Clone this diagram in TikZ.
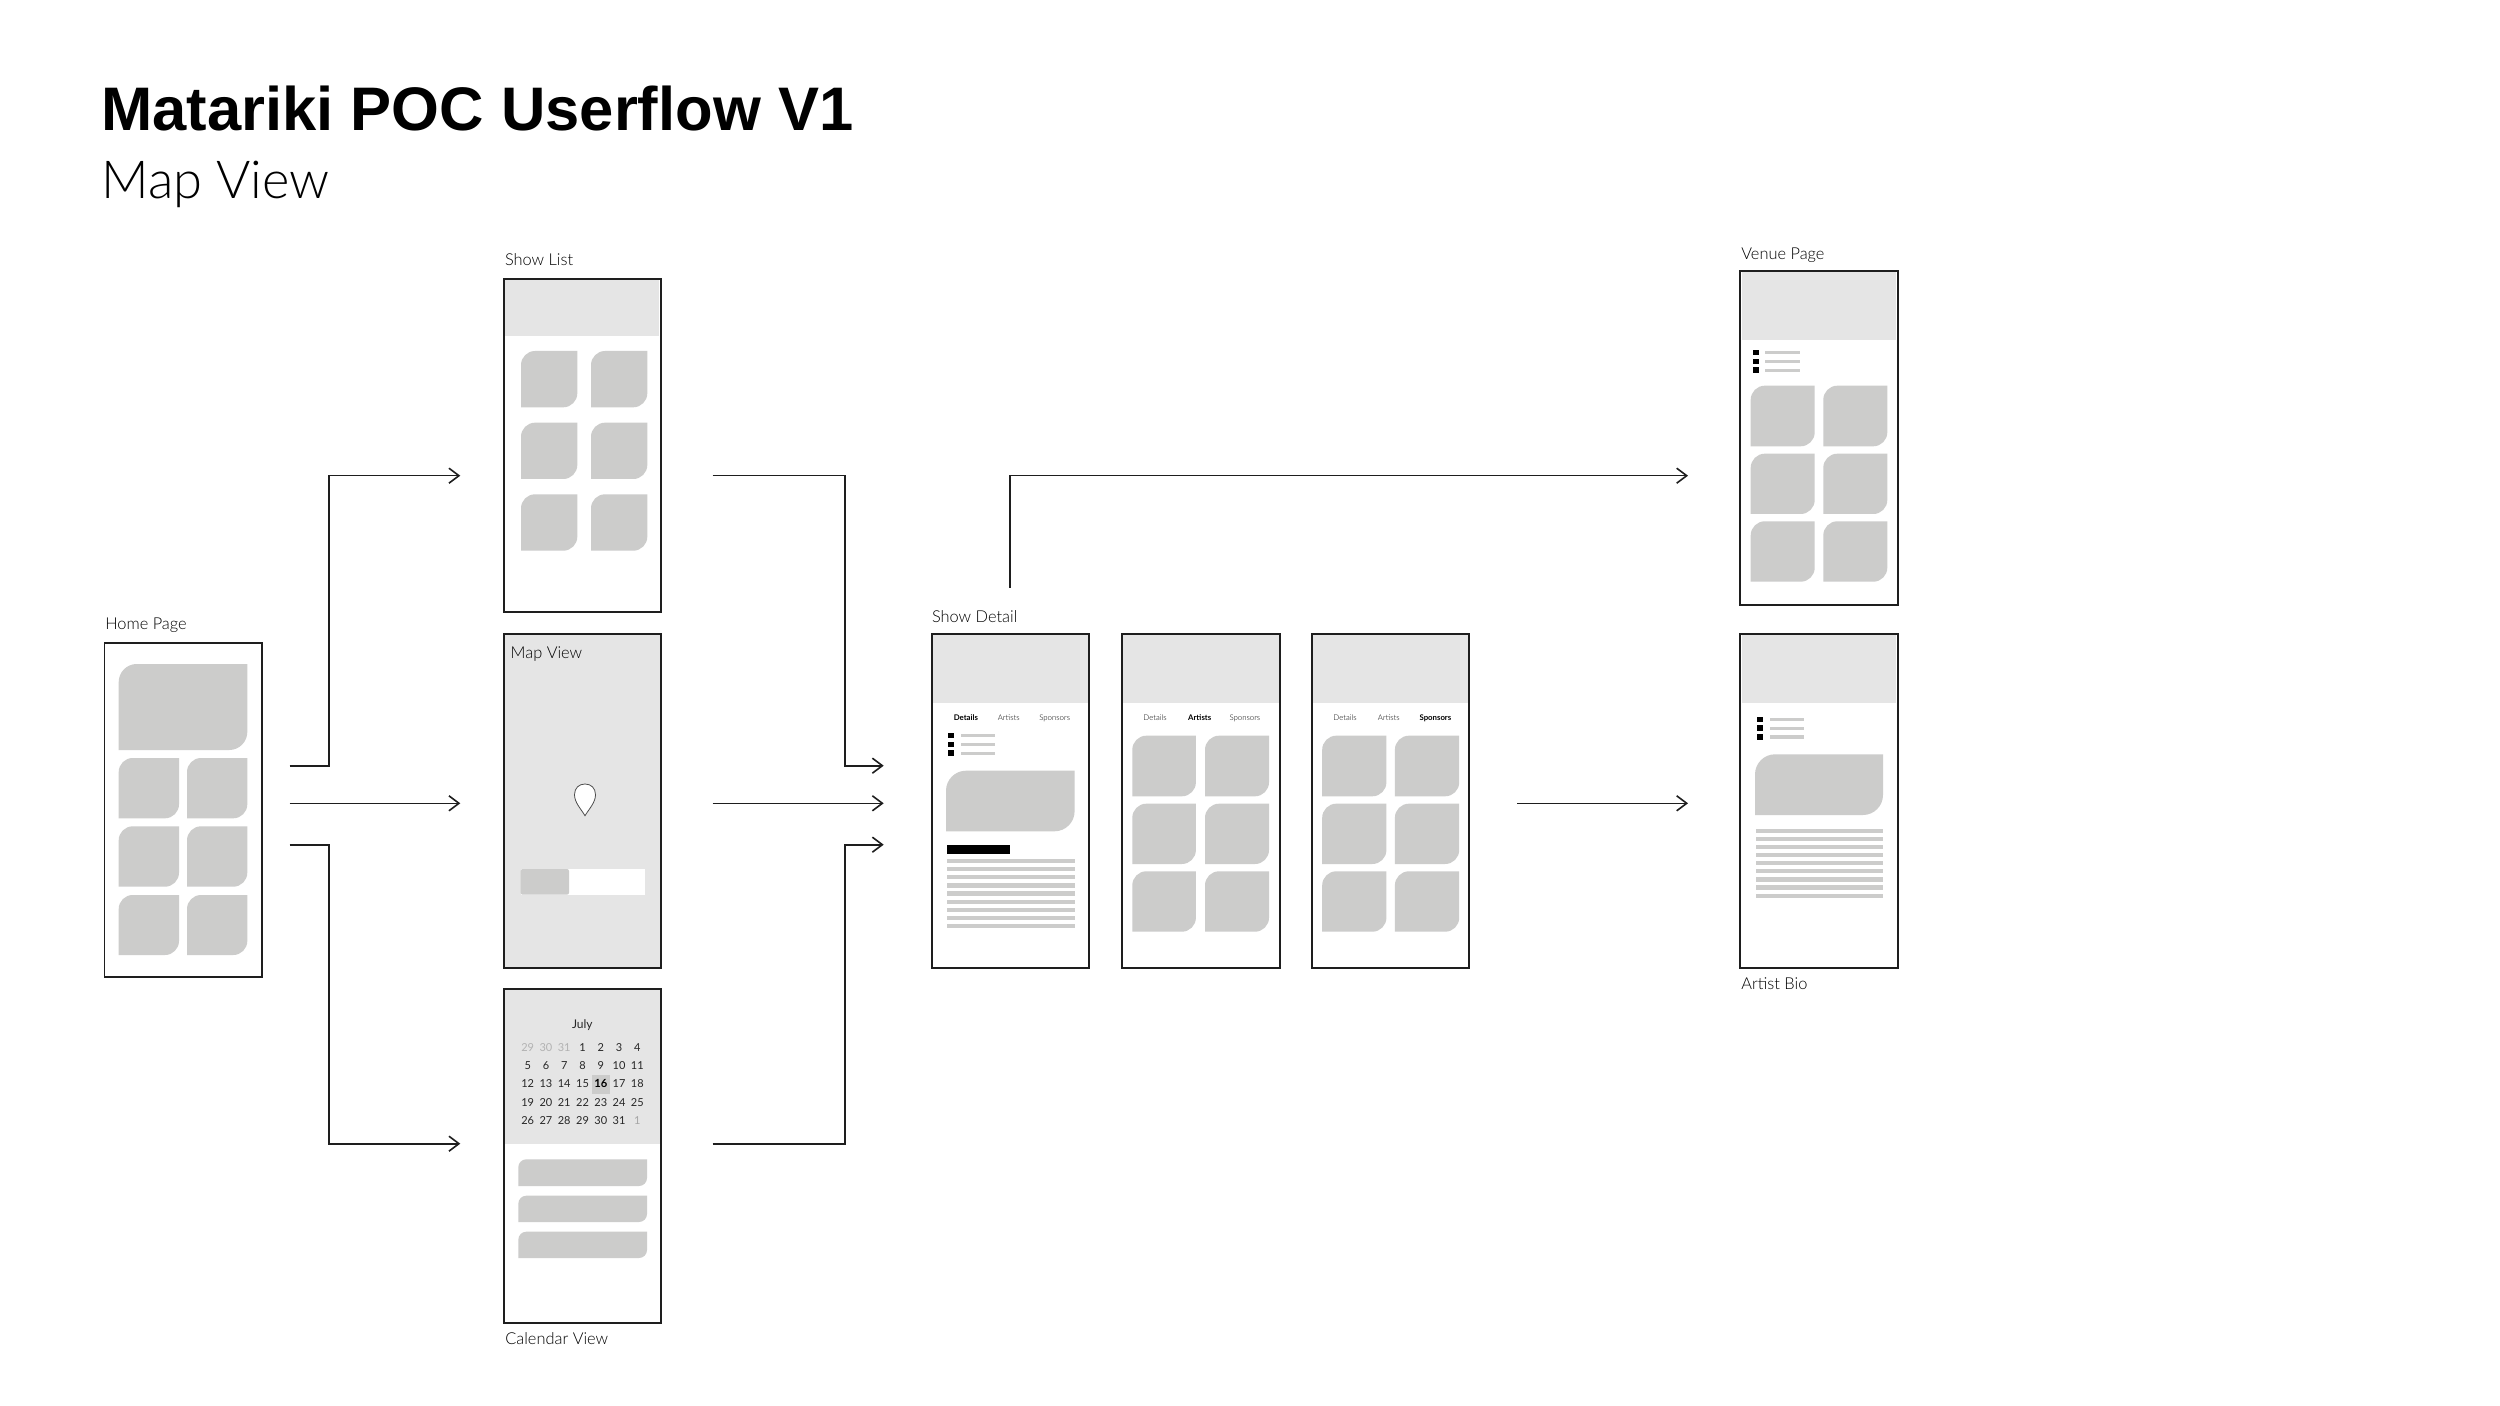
\documentclass[tikz,border=0pt]{standalone}
\usepackage{fontspec}
\usetikzlibrary{arrows.meta}
\setmainfont{Liberation Sans}
\newfontfamily\lightf{Lato Light}
\newfontfamily\regf{Lato}
\newfontfamily\titlef{Liberation Sans}
\definecolor{hdr}{HTML}{E5E5E5}
\definecolor{tile}{HTML}{CCCCCB}
\definecolor{ink}{HTML}{1E1E1E}
\tikzset{
  screen/.style={draw=ink,line width=0.9pt,fill=white,inner sep=0pt,outer sep=0pt},
  lab/.style={anchor=base west,inner sep=0pt,outer sep=0pt,yshift=-0.4pt,text=black,font=\lightf\fontsize{8.2pt}{10pt}\selectfont},
  tab/.style={anchor=base,inner sep=0pt,outer sep=0pt,text=black,font=\lightf\fontsize{3.9pt}{5pt}\selectfont},
  tabb/.style={anchor=base,inner sep=0pt,outer sep=0pt,text=black,font=\regf\bfseries\fontsize{3.9pt}{5pt}\selectfont},
  dayk/.style={anchor=center,inner sep=0pt,text=black!85,font=\regf\fontsize{5.5pt}{7pt}\selectfont},
  dayg/.style={dayk,text=black!35},
  dayh/.style={dayk,text=black!30},
  dayb/.style={dayk,text=black,font=\regf\bfseries\fontsize{5.6pt}{7pt}\selectfont},
  flow/.style={draw=ink,line width=0.8pt,line join=miter,-{Straight Barb[length=5pt,width=7.5pt,line width=0.8pt]}},
}
\newcommand{\frm}[5]{\node[screen,minimum width={(#4-#2)*0.5pt},minimum height={(#5-#3)*0.5pt}] (#1) at ({(#2+#4)/2},{(#3+#5)/2}) {};}
\newcommand{\hdrbox}[4]{\fill[hdr] (#1,#2) rectangle (#3,#4);}
\newcommand{\tl}[5]{\fill[tile] (#1,{#2+#5}) .. controls (#1,{#2+.45*#5}) and ({#1+.45*#5},#2) .. ({#1+#5},#2) -- (#3,#2) -- (#3,{#4-#5}) .. controls (#3,{#4-.45*#5}) and ({#3-.45*#5},#4) .. ({#3-#5},#4) -- (#1,#4) -- cycle;}
\newcommand{\rowtiles}[6]{\tl{#1}{#5}{#2}{#6}{14}\tl{#3}{#5}{#4}{#6}{14}}
\newcommand{\bulletset}[5]{%
  \fill[black] (#1,#3) rectangle (#2,{#3+5.4});
  \fill[black] (#1,{#3+8.7}) rectangle (#2,{#3+14.1});
  \fill[black] (#1,{#3+17.4}) rectangle (#2,{#3+22.8});
  \fill[tile] (#4,{#3+1.2}) rectangle (#5,{#3+4.4});
  \fill[tile] (#4,{#3+9.9}) rectangle (#5,{#3+13.1});
  \fill[tile] (#4,{#3+18.6}) rectangle (#5,{#3+21.8});
}
\newcommand{\textlines}[3]{\foreach \i in {0,...,8}{\fill[tile] (#1,{#3+8.1*\i}) rectangle (#2,{#3+8.1*\i+4.2});}}
\begin{document}
\begin{tikzpicture}[x=0.5pt,y=-0.5pt]
\useasboundingbox (0,0) rectangle (2500,1406);
\fill[white] (0,0) rectangle (2500,1406);

% title
\node[anchor=base west,inner sep=0pt,font=\titlef\bfseries\fontsize{30.75pt}{36pt}\selectfont] (title) at (101,130.7) {Matariki POC Userflow V1};
\node[anchor=base west,inner sep=0pt,font=\lightf\fontsize{26.2pt}{30pt}\selectfont] (subtitle) at (101,199) {Map View};

% home
\frm{home}{104.5}{642.7}{261.7}{976.7}
\node[lab] (homelab) at (105.3,629) {Home Page};
\tl{118.7}{664}{247.3}{750}{18}
\rowtiles{118.7}{179}{187}{247.3}{758}{818.3}
\rowtiles{118.7}{179}{187}{247.3}{826.3}{886.7}
\rowtiles{118.7}{179}{187}{247.3}{895}{955}

% show list
\frm{showlist}{504}{278.7}{661}{612}
\node[lab] (listlab) at (505,264.3) {Show List};
\hdrbox{505}{279.7}{659}{336}
\rowtiles{521}{577.3}{591}{647.3}{351}{407.3}
\rowtiles{521}{577.3}{591}{647.3}{422.7}{479}
\rowtiles{521}{577.3}{591}{647.3}{494.3}{550.7}

% map view
\node[screen,fill=hdr,minimum width={157*0.5pt},minimum height={333.7*0.5pt}] (mapview) at (582.5,800.85) {};
\node[lab] (maplab) at (510.7,657.7) {Map View};
\draw[fill=white,draw=black!70,line width=0.4pt] (585,815.7) .. controls (581,809) and (574.5,802.5) .. (574.5,794.7) .. controls (574.5,788) and (579,784) .. (585,784) .. controls (591,784) and (595.5,788) .. (595.5,794.7) .. controls (595.5,802.5) and (589,809) .. cycle;
\fill[white] (520.7,869) rectangle (645,894.7);
\fill[tile,rounded corners=1pt] (520.7,869) rectangle (569,894.7);

% calendar
\frm{calendar}{504}{989}{661}{1322.7}
\hdrbox{505}{990}{660}{1144}
\node[lab] (callab) at (505.3,1344) {Calendar View};
\node[dayk,font=\regf\fontsize{6pt}{7pt}\selectfont] (july) at (582.3,1025) {July};
\fill[tile] (592,1075) rectangle (610,1093.7);
\foreach \t/\c [count=\i] in {29/dayh,30/dayh,31/dayh,1/dayk,2/dayk,3/dayk,4/dayk}
  \node[\c] (a\i) at ({527.7+18.27*(\i-1)},1048) {\t};
\foreach \t/\c [count=\i] in {5/dayk,6/dayk,7/dayk,8/dayk,9/dayk,10/dayk,11/dayk}
  \node[\c] (b\i) at ({527.7+18.27*(\i-1)},1065.7) {\t};
\foreach \t/\c [count=\i] in {12/dayk,13/dayk,14/dayk,15/dayk,16/dayb,17/dayk,18/dayk}
  \node[\c] (c\i) at ({527.7+18.27*(\i-1)},1083.7) {\t};
\foreach \t/\c [count=\i] in {19/dayk,20/dayk,21/dayk,22/dayk,23/dayk,24/dayk,25/dayk}
  \node[\c] (d\i) at ({527.7+18.27*(\i-1)},1103) {\t};
\foreach \t/\c [count=\i] in {26/dayk,27/dayk,28/dayk,29/dayk,30/dayk,31/dayk,1/dayg}
  \node[\c] (e\i) at ({527.7+18.27*(\i-1)},1120.7) {\t};
\tl{518.3}{1159.3}{647}{1186}{8}
\tl{518.3}{1195.7}{647}{1222}{8}
\tl{518.3}{1231.7}{647}{1258}{8}

% show detail 1
\frm{detailone}{932}{634}{1089}{968}
\node[lab] (detlab) at (932,621.3) {Show Detail};
\hdrbox{933}{635}{1088}{702.7}
\node[tabb] (t11) at (965.9,720.4) {Details};
\node[tab] (t12) at (1008.7,720.4) {Artists};
\node[tab] (t13) at (1054.7,720.4) {Sponsors};
\bulletset{948.3}{954.4}{733}{961}{995.3}
\tl{946}{770.7}{1074.6}{831.3}{20}
\fill[black] (946.7,844.7) rectangle (1010.3,853.7);
\textlines{946.7}{1074.6}{859}

% show detail 2
\frm{detailtwo}{1121.6}{634}{1279.6}{968}
\hdrbox{1122.6}{635}{1278.6}{702.7}
\node[tab] (t21) at (1155,720.4) {Details};
\node[tabb] (t22) at (1199.7,720.4) {Artists};
\node[tab] (t23) at (1244.9,720.4) {Sponsors};
\rowtiles{1132.3}{1195.9}{1205}{1269}{735.7}{796.3}
\rowtiles{1132.3}{1195.9}{1205}{1269}{803.7}{864}
\rowtiles{1132.3}{1195.9}{1205}{1269}{871.3}{931.7}

% show detail 3
\frm{detailthree}{1311.8}{634}{1469}{968}
\hdrbox{1312.8}{635}{1468}{702.7}
\node[tab] (t31) at (1345,720.4) {Details};
\node[tab] (t32) at (1388.8,720.4) {Artists};
\node[tabb] (t33) at (1435.4,720.4) {Sponsors};
\rowtiles{1322.2}{1386.4}{1394.9}{1459.2}{735.7}{796.3}
\rowtiles{1322.2}{1386.4}{1394.9}{1459.2}{803.7}{864}
\rowtiles{1322.2}{1386.4}{1394.9}{1459.2}{871.3}{931.7}

% venue
\frm{venue}{1740}{270.7}{1897.7}{605}
\node[lab] (venlab) at (1741.3,258.3) {Venue Page};
\hdrbox{1741.5}{271.7}{1896.2}{339.7}
\bulletset{1752.7}{1758.7}{350}{1765.3}{1799.7}
\rowtiles{1750.7}{1814.7}{1823.3}{1887.3}{385.7}{446.3}
\rowtiles{1750.7}{1814.7}{1823.3}{1887.3}{453.7}{514}
\rowtiles{1750.7}{1814.7}{1823.3}{1887.3}{521.3}{581.7}

% artist bio
\frm{artist}{1740}{634}{1897.7}{968}
\node[lab] (artlab) at (1741.3,989) {Artist Bio};
\hdrbox{1741.5}{635}{1896.2}{702.7}
\bulletset{1757.3}{1763.3}{716.7}{1770}{1804.3}
\tl{1755}{754.3}{1883}{815}{20}
\textlines{1755.7}{1883}{828.7}

% connector ends
\coordinate (hA) at (289.7,765.7);
\coordinate (hB) at (289.7,803.3);
\coordinate (hC) at (289.7,844.7);
\coordinate (hAm) at (328.7,475.7);
\coordinate (hCm) at (328.7,1143.7);
\coordinate (listIn) at (460.3,475.7);
\coordinate (mapIn) at (460.3,803.3);
\coordinate (calIn) at (460.3,1143.7);
\coordinate (listOut) at (712.6,475.7);
\coordinate (mapOut) at (712.6,803.3);
\coordinate (calOut) at (712.6,1143.7);
\coordinate (lm) at (845,475.7);
\coordinate (cm) at (845,1143.7);
\coordinate (dA) at (883.7,765.7);
\coordinate (dB) at (883.7,803.3);
\coordinate (dC) at (883.7,844.7);
\coordinate (upS) at (1010,588);
\coordinate (upM) at (1010,475.7);
\coordinate (venIn) at (1688,475.7);
\coordinate (detOut) at (1517,803.3);
\coordinate (artIn) at (1688,803.3);

\draw[flow] (hA) -- (hA -| hAm) -- (hAm) -- (listIn);
\draw[flow] (hB) -- (mapIn);
\draw[flow] (hC) -- (hC -| hCm) -- (hCm) -- (calIn);
\draw[flow] (listOut) -- (lm) -- (lm |- dA) -- (dA);
\draw[flow] (mapOut) -- (dB);
\draw[flow] (calOut) -- (cm) -- (cm |- dC) -- (dC);
\draw[flow] (upS) -- (upM) -- (venIn);
\draw[flow] (detOut) -- (artIn);
\end{tikzpicture}
\end{document}
